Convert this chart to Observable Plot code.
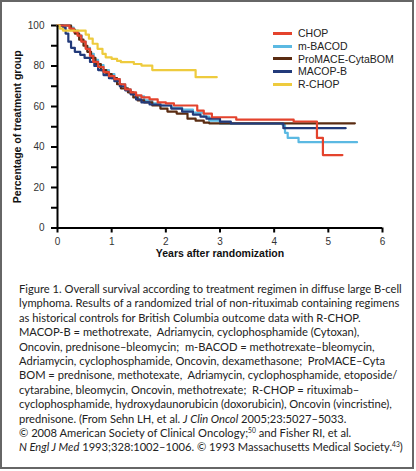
<!DOCTYPE html>
<html><head><meta charset="utf-8">
<script src="https://cdn.jsdelivr.net/npm/d3@7"></script>
<script src="https://cdn.jsdelivr.net/npm/@observablehq/plot@0.6"></script>
<style>
html,body{margin:0;padding:0;background:#fff;}
#wrap{position:relative;width:416px;height:471px;overflow:hidden;background:#fff;}
#frame{position:absolute;left:0;top:0;width:414px;height:469px;box-sizing:border-box;border:2px solid #666;pointer-events:none;}
#chart{position:absolute;left:0;top:0;}
#legend{position:absolute;left:273px;top:27.4px;font-family:"Liberation Sans",Arial,sans-serif;font-size:10.5px;color:#222;}
#legend .row{height:12.6px;line-height:12.6px;display:flex;align-items:center;white-space:nowrap;}
#legend .sw{width:19px;height:3px;margin-right:6px;}
#caption{position:absolute;left:19px;top:282px;font-family:Lato,sans-serif;font-size:11.5px;line-height:14.4px;color:#222;}
#caption div{white-space:nowrap;}
sup{font-size:0.6em;line-height:0;vertical-align:0.55em;}
</style></head>
<body>
<div id="wrap">
  <div id="chart"></div>
  <div id="legend"></div>
  <div id="caption"></div>
  <div id="frame"></div>
</div>
<script>
// ---- data (years after randomization, % of treatment group) ----
const seriesNames = ["CHOP", "m-BACOD", "ProMACE-CytaBOM", "MACOP-B", "R-CHOP"];
const seriesColors = ["#e4432d", "#5bb9e2", "#5a2c12", "#223a7a", "#eecb3e"];
const drawOrder = ["m-BACOD", "ProMACE-CytaBOM", "MACOP-B", "CHOP", "R-CHOP"];

const chop = [[0,100],[0.17,100],[0.22,98.5],[0.3,97],[0.37,95],[0.44,92],[0.52,88.5],[0.6,85],[0.66,82],[0.75,79.5],[0.85,77],[0.95,75],[1.05,73.5],[1.15,71],[1.25,68.5],[1.35,67],[1.45,65.5],[1.55,64.5],[1.7,63.5],[1.85,62],[2.0,61.5],[2.15,60.5],[2.58,58],[2.7,56.5],[2.85,54.7],[3.3,53.5],[4.36,52.6],[4.79,44.5],[4.9,36],[5.26,36]];
const mbacod = [[0,100],[0.2,100],[0.25,99],[0.3,97.5],[0.38,95],[0.45,92],[0.52,89],[0.6,86],[0.67,83],[0.75,80.5],[0.85,78],[0.95,76],[1.05,73.5],[1.15,71],[1.25,68.5],[1.35,66.5],[1.45,65],[1.6,63],[1.75,61.5],[1.9,60.5],[2.1,59.5],[2.3,58.5],[2.5,57],[2.7,55],[2.8,53],[3.0,51.5],[4.15,51],[4.2,47],[4.25,44.5],[4.45,42.4],[5.53,42.4]];
const promace = [[0,100],[0.18,100],[0.25,98],[0.32,96],[0.4,93],[0.48,90],[0.55,87],[0.62,84],[0.7,81],[0.8,78],[0.9,76],[1.0,74],[1.1,71],[1.17,69],[1.3,67],[1.4,64.5],[1.48,63],[1.6,62],[1.75,60.5],[1.9,59],[2.03,57.5],[2.2,56.5],[2.4,54],[2.55,53],[2.7,52],[2.8,51.7],[5.49,51.7]];
const macopb = [[0,100],[0.1,99],[0.15,96],[0.2,92],[0.25,89],[0.32,87],[0.42,85.5],[0.5,84],[0.6,82],[0.68,80],[0.75,78],[0.85,75.5],[0.95,74],[1.05,72.5],[1.15,70],[1.25,68],[1.35,66],[1.45,63.5],[1.55,62],[1.7,61],[1.9,60.5],[2.1,59],[2.3,57.5],[2.5,56],[2.64,55],[2.75,54],[3.0,52.5],[3.2,51.6],[4.17,49.3],[5.32,49.3]];
const rchop = [[0,100],[0.04,98.5],[0.1,97.5],[0.45,97.5],[0.52,95.5],[0.58,93.5],[0.65,91],[0.74,88.5],[0.83,86],[0.89,84.3],[1.0,83.5],[1.1,82.5],[1.17,81.9],[1.41,81],[1.55,80.2],[1.75,78],[2.52,78],[2.55,74.5],[2.94,74.5]];

const xTicks = [0, 1, 2, 3, 4, 5, 6];
const yTicks = [0, 10, 20, 30, 40, 50, 60, 70, 80, 90, 100];
const yLabelTicks = [0, 20, 40, 60, 80, 100];
const xTitle = "Years after randomization";
const yTitle = "Percentage of treatment group";

const captionLines = [
  "Figure 1. Overall survival according to treatment regimen in diffuse large B-cell",
  "lymphoma. Results of a randomized trial of non-rituximab containing regimens",
  "as historical controls for British Columbia outcome data with R-CHOP.",
  "MACOP-B = methotrexate,&nbsp; Adriamycin, cyclophosphamide (Cytoxan),",
  "Oncovin, prednisone–bleomycin;&nbsp; m-BACOD = methotrexate–bleomycin,",
  "Adriamycin, cyclophosphamide, Oncovin, dexamethasone;&nbsp; ProMACE–Cyta",
  "BOM = prednisone, methotexate,&nbsp; Adriamycin, cyclophosphamide, etoposide/",
  "cytarabine, bleomycin, Oncovin, methotrexate;&nbsp; R-CHOP = rituximab–",
  "cyclophosphamide, hydroxydaunorubicin (doxorubicin), Oncovin (vincristine),",
  "prednisone. (From Sehn LH, et al. <i>J Clin Oncol</i> 2005;23:5027–5033.",
  "© 2008 American Society of Clinical Oncology;<sup>50</sup> and Fisher RI, et al.",
  "<i>N Engl J Med</i> 1993;328:1002–1006. © 1993 Massachusetts Medical Society.<sup>43</sup>)"
];

// ---- build table ----
const seriesData = {"CHOP": chop, "m-BACOD": mbacod, "ProMACE-CytaBOM": promace, "MACOP-B": macopb, "R-CHOP": rchop};
const rows = drawOrder.flatMap(name => seriesData[name].map(([t, s]) => ({name, t, s})));

const chart = Plot.plot({
  width: 416,
  height: 270,
  marginLeft: 57,
  marginRight: 34,
  marginTop: 25,
  marginBottom: 42.5,
  style: {fontFamily: '"Liberation Sans", Arial, sans-serif', fontSize: "10px", color: "#000", background: "transparent"},
  x: {domain: [0, 6]},
  y: {domain: [0, 100]},
  color: {domain: seriesNames, range: seriesColors},
  marks: [
    Plot.axisX({ticks: xTicks, tickSize: 5, tickPadding: 5, strokeWidth: 2, label: null, tickFormat: d => String(d), fill: "#333"}),
    Plot.axisY({ticks: yTicks, tickSize: 6, tickPadding: 7, strokeWidth: 2, label: null, tickFormat: d => yLabelTicks.includes(d) ? String(d) : "", fill: "#333"}),
    Plot.line(rows, {x: "t", y: "s", z: "name", stroke: "name", curve: "step-after", strokeWidth: 2.2}),
    Plot.ruleX([0], {strokeWidth: 2, stroke: "#000"}),
    Plot.ruleY([0], {strokeWidth: 2, stroke: "#000"}),
    Plot.text([xTitle], {frameAnchor: "bottom", dy: 29, fontWeight: "bold", fontSize: 10.5, fill: "#111"}),
    Plot.text([yTitle], {frameAnchor: "left", textAnchor: "middle", lineAnchor: "middle", dx: -40, rotate: -90, fontWeight: "bold", fontSize: 10.5, fill: "#111"})
  ]
});
document.getElementById("chart").appendChild(chart);

// legend
const legend = document.getElementById("legend");
seriesNames.forEach((n, i) => {
  const r = document.createElement("div");
  r.className = "row";
  r.innerHTML = `<span class="sw" style="background:${seriesColors[i]}"></span><span>${n}</span>`;
  legend.appendChild(r);
});

// caption
const cap = document.getElementById("caption");
captionLines.forEach(l => {
  const d = document.createElement("div");
  d.innerHTML = l;
  cap.appendChild(d);
});
const first = cap.firstChild;
const w = first.getBoundingClientRect().width;
const target = 384;
cap.style.fontSize = (11.5 * target / w) + "px";
</script>
</body></html>
